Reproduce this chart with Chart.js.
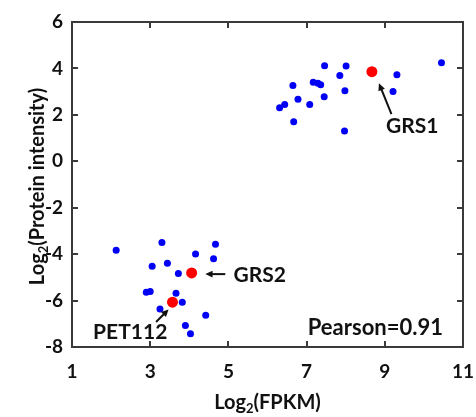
<!DOCTYPE html>
<html>
<head>
<meta charset="utf-8">
<script src="https://cdn.jsdelivr.net/npm/chart.js@4.4.1/dist/chart.umd.min.js"></script>
<style>
  html, body { margin: 0; padding: 0; background: #fff; }
</style>
</head>
<body>
<canvas id="scatterChart" width="476" height="417"></canvas>
<script>
// log2(FPKM) vs log2(protein intensity)
const blueX = [7.46, 8.01, 7.85, 9.31, 10.45, 6.65, 7.17, 7.29, 7.36, 7.98, 9.21, 6.78, 7.45, 7.08, 6.31, 6.44, 6.67, 7.97,
               2.13, 3.30, 4.67, 4.16, 4.62, 3.05, 3.44, 3.72, 2.90, 3.00, 3.66, 3.82, 3.25, 4.42, 3.90, 4.03];
const blueY = [4.12, 4.10, 3.70, 3.73, 4.25, 3.27, 3.41, 3.36, 3.30, 3.04, 3.01, 2.67, 2.78, 2.45, 2.31, 2.45, 1.70, 1.31,
               -3.83, -3.50, -3.57, -3.99, -4.20, -4.52, -4.39, -4.83, -5.64, -5.61, -5.68, -6.07, -6.36, -6.63, -7.07, -7.43];
const redNames = ['GRS1', 'GRS2', 'PET112'];
const redX = [8.67, 4.06, 3.57];
const redY = [3.86, -4.81, -6.07];
const xTicks = [1, 3, 5, 7, 9, 11];
const yTicks = [-8, -6, -4, -2, 0, 2, 4, 6];

// label text pos, arrow tail, arrow head (data units)
const notes = [
    { text: redNames[0], x: 9.03, y: 1.52, ax: 9.17, ay: 2.03, hx: 8.85, hy: 3.36 },
    { text: redNames[1], x: 5.13, y: -4.91, ax: 4.92, ay: -4.86, hx: 4.41, hy: -4.86 },
    { text: redNames[2], x: 1.54, y: -7.36, ax: 3.15, ay: -6.92, hx: 3.47, hy: -6.38 }
];
const pearsonText = 'Pearson=0.91';

const FONT = 'Lato, "Open Sans", sans-serif';

// draws "Log" + subscript 2 + rest, centred on (0,0) of current transform
function drawLogTitle(c, rest) {
    const big = 'bold 20px ' + FONT, small = 'bold 13px ' + FONT;
    c.font = big;
    const w1 = c.measureText('Log').width, w3 = c.measureText(rest).width;
    c.font = small;
    const w2 = c.measureText('2').width;
    let x = -(w1 + w2 + w3) / 2;
    c.textAlign = 'left';
    c.textBaseline = 'alphabetic';
    c.font = big;
    c.fillText('Log', x, 7);
    x += w1;
    c.font = small;
    c.fillText('2', x, 11);
    x += w2;
    c.font = big;
    c.fillText(rest, x, 7);
}

const boxPlugin = {
    id: 'boxAndNotes',
    afterDraw: function(chart) {
        const c = chart.ctx;
        const xs = chart.scales.x, ys = chart.scales.y;
        const L = Math.round(xs.getPixelForValue(xTicks[0]));
        const R = Math.round(xs.getPixelForValue(xTicks[xTicks.length - 1]));
        const T = Math.round(ys.getPixelForValue(yTicks[yTicks.length - 1]));
        const B = Math.round(ys.getPixelForValue(yTicks[0]));
        c.save();
        // frame (box on)
        c.fillStyle = '#3a3a3a';
        c.fillRect(L - 1, T - 1, R - L + 2, 2);
        c.fillRect(L - 1, B - 1, R - L + 2, 2);
        c.fillRect(L - 1, T - 1, 2, B - T + 2);
        c.fillRect(R - 1, T - 1, 2, B - T + 2);
        // inward ticks on all four sides
        xTicks.forEach(v => {
            const px = Math.round(xs.getPixelForValue(v));
            c.fillRect(px - 1, B - 6, 2, 6);
            c.fillRect(px - 1, T, 2, 6);
        });
        yTicks.forEach(v => {
            const py = Math.round(ys.getPixelForValue(v));
            c.fillRect(L, py - 1, 6, 2);
            c.fillRect(R - 6, py - 1, 6, 2);
        });

        // axis titles
        c.fillStyle = '#111';
        c.save();
        c.translate((L + R) / 2, B + 55);
        drawLogTitle(c, '(FPKM)');
        c.restore();
        c.save();
        c.translate(L - 35, (T + B) / 2 + 2);
        c.rotate(-Math.PI / 2);
        drawLogTitle(c, '(Protein intensity)');
        c.restore();

        // labels + arrows
        c.fillStyle = '#111';
        c.strokeStyle = '#111';
        c.font = 'bold 21px ' + FONT;
        c.textBaseline = 'middle';
        c.textAlign = 'left';
        notes.forEach(l => {
            c.fillText(l.text, xs.getPixelForValue(l.x), ys.getPixelForValue(l.y));
            const x0 = xs.getPixelForValue(l.ax), y0 = ys.getPixelForValue(l.ay);
            const x1 = xs.getPixelForValue(l.hx), y1 = ys.getPixelForValue(l.hy);
            const ang = Math.atan2(y1 - y0, x1 - x0);
            c.lineWidth = 2;
            c.beginPath();
            c.moveTo(x0, y0);
            c.lineTo(x1 - 4 * Math.cos(ang), y1 - 4 * Math.sin(ang));
            c.stroke();
            c.beginPath();
            c.moveTo(x1, y1);
            c.lineTo(x1 - 8 * Math.cos(ang - 0.45), y1 - 8 * Math.sin(ang - 0.45));
            c.lineTo(x1 - 8 * Math.cos(ang + 0.45), y1 - 8 * Math.sin(ang + 0.45));
            c.closePath();
            c.fill();
        });
        c.font = 'bold 22px ' + FONT;
        c.fillText(pearsonText, xs.getPixelForValue(7.03), ys.getPixelForValue(-7.19));
        c.restore();
    }
};

const chart = new Chart(document.getElementById('scatterChart'), {
    type: 'scatter',
    data: {
        datasets: [{
            label: 'highlight',
            data: redX.map((x, i) => ({ x: x, y: redY[i] })),
            backgroundColor: 'rgb(255, 0, 0)',
            borderWidth: 0,
            pointRadius: 5.5
        }, {
            label: 'genes',
            data: blueX.map((x, i) => ({ x: x, y: blueY[i] })),
            backgroundColor: 'rgb(0, 0, 245)',
            borderWidth: 0,
            pointRadius: 3.5
        }]
    },
    options: {
        responsive: false,
        animation: false,
        layout: { padding: { left: 0, right: 13, top: 22, bottom: 0 } },
        plugins: { legend: { display: false }, tooltip: { enabled: false } },
        scales: {
            x: {
                type: 'linear',
                min: 1, max: 11,
                afterBuildTicks: function(scale) { scale.ticks = xTicks.map(v => ({ value: v })); },
                afterFit: function(scale) { scale.height = 70; scale.paddingLeft = 0; scale.paddingRight = 0; },
                grid: { display: false, drawTicks: false },
                border: { display: false },
                ticks: { color: '#111', padding: 13, maxRotation: 0, font: { family: FONT, size: 19, weight: 'bold' } }
            },
            y: {
                type: 'linear',
                min: -8, max: 6,
                afterBuildTicks: function(scale) { scale.ticks = yTicks.map(v => ({ value: v })); },
                afterFit: function(scale) { scale.width = 72; },
                grid: { display: false, drawTicks: false },
                border: { display: false },
                ticks: { color: '#111', padding: 9, font: { family: FONT, size: 19, weight: 'bold' } }
            }
        }
    },
    plugins: [boxPlugin]
});
</script>
</body>
</html>
